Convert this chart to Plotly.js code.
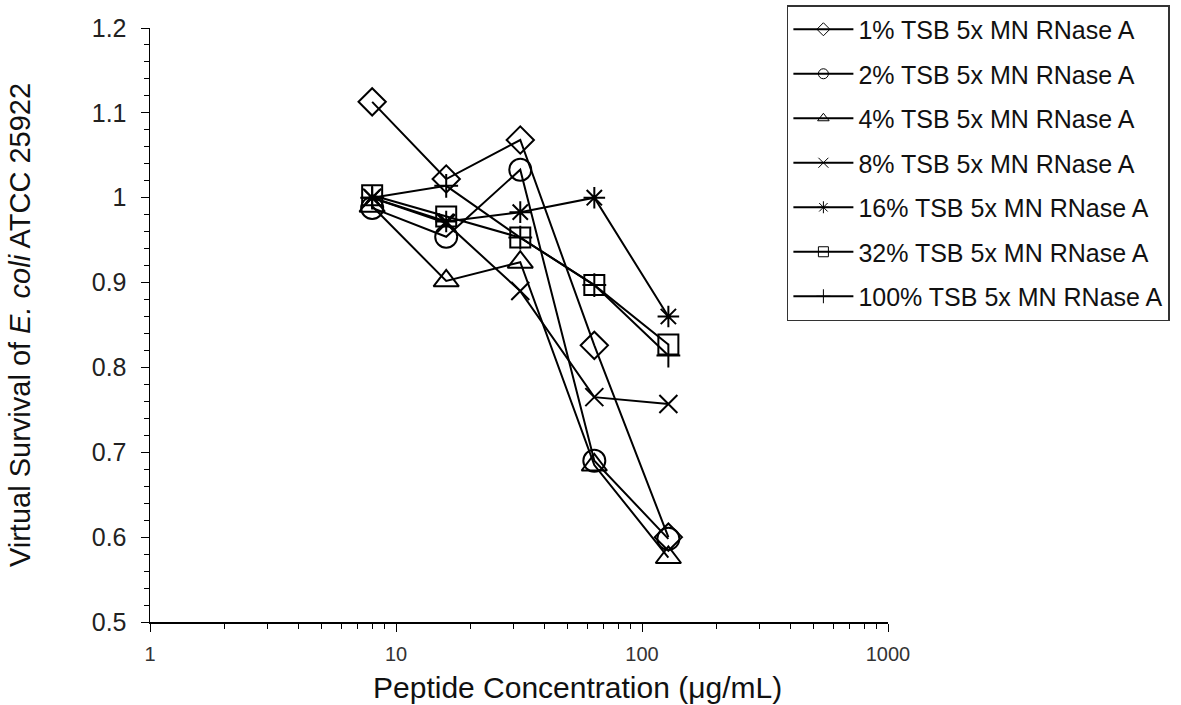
<!DOCTYPE html>
<html><head><meta charset="utf-8">
<script src="https://cdn.plot.ly/plotly-3.0.1.min.js"></script>
<style>html,body{margin:0;padding:0;background:#fff}#chart{width:1181px;height:705px}</style>
</head><body><div id="chart"></div>
<script>
const conc = [8, 16, 32, 64, 128];
const seriesNames = [
  "1% TSB 5x MN RNase A",
  "2% TSB 5x MN RNase A",
  "4% TSB 5x MN RNase A",
  "8% TSB 5x MN RNase A",
  "16% TSB 5x MN RNase A",
  "32% TSB 5x MN RNase A",
  "100% TSB 5x MN RNase A"
];
const s1 = [1.113, 1.022, 1.068, 0.826, 0.600];
const s2 = [0.988, 0.954, 1.033, 0.690, 0.598];
const s3 = [0.990, 0.902, 0.924, 0.685, 0.576];
const s4 = [1.000, 0.970, 0.890, 0.765, 0.757];
const s5 = [1.000, 0.972, 0.983, 1.000, 0.860];
const s6 = [1.003, 0.978, 0.953, 0.897, 0.827];
const s7 = [1.000, 1.014, 0.953, 0.897, 0.814];
const seriesValues = [s1, s2, s3, s4, s5, s6, s7];
const symbols = ["diamond-open", "circle-open", "triangle-up-open", "x-thin-open", "asterisk-open", "square-open", "cross-thin-open"];
const sizes = [21, 22, 22, 18, 18, 20, 17];
const xTitle = "Peptide Concentration (μg/mL)";
const yTitle = "Virtual Survival of <i>E. coli</i> ATCC 25922";

const traces = seriesNames.map((n, i) => ({
  x: conc, y: seriesValues[i], name: n, type: "scatter", mode: "lines+markers",
  showlegend: false,
  line: {color: "#000", width: 2},
  marker: {symbol: symbols[i], size: sizes[i], color: "#000", line: {color: "#000", width: 2}}
}));
// legend entries (thin symbols like the reference key)
const legendTraces = seriesNames.map((n, i) => ({
  x: [null], y: [null], name: n, type: "scatter", mode: "lines+markers",
  legendgroup: "g" + i, showlegend: true,
  line: {color: "#000", width: 2},
  marker: {symbol: symbols[i], size: 10, color: "#000", line: {color: "#333", width: 1}}
}));

const font = "Liberation Sans, Arial, sans-serif";
const layout = {
  width: 1181, height: 705,
  margin: {l: 150, r: 293, t: 28, b: 83, autoexpand: false},
  paper_bgcolor: "#fff", plot_bgcolor: "#fff",
  font: {family: font, color: "#111", size: 20},
  showlegend: true,
  legend: {
    x: 0.863, y: 1.0387, xanchor: "left", yanchor: "top",
    bgcolor: "#fff", bordercolor: "#333", borderwidth: 1.5,
    font: {family: font, size: 25, color: "#111"},
    tracegroupgap: 9, itemwidth: 60
  },
  xaxis: {
    type: "log", range: [0, 3], dtick: 1, automargin: false,
    showgrid: false, zeroline: false, showline: true, linecolor: "#000", linewidth: 1.5,
    ticks: "outside", ticklen: 8, tickcolor: "#000", tickwidth: 1,
    ticklabelstandoff: 5,
    tickfont: {family: font, size: 20, color: "#333"},
    minor: {ticks: "outside", ticklen: 5, tickcolor: "#000", dtick: "D1", showgrid: false}
  },
  yaxis: {
    range: [0.5, 1.2], dtick: 0.1, automargin: false,
    showgrid: false, zeroline: false, showline: true, linecolor: "#000", linewidth: 1.5,
    ticks: "outside", ticklen: 8, tickcolor: "#000", tickwidth: 1,
    ticklabelstandoff: 9,
    tickfont: {family: font, size: 25, color: "#222"},
    minor: {ticks: "outside", ticklen: 5, tickcolor: "#000", dtick: 0.02, showgrid: false},
    title: {text: yTitle, font: {family: font, size: 29, color: "#111"}, standoff: 52}
  },
  annotations: [{
    text: xTitle, xref: "paper", yref: "paper", x: 0.5786, y: -0.111,
    xanchor: "center", yanchor: "middle", showarrow: false,
    font: {family: font, size: 30, color: "#111"}
  }]
};
Plotly.newPlot("chart", traces.concat(legendTraces), layout, {displayModeBar: false, staticPlot: true});
</script></body></html>
